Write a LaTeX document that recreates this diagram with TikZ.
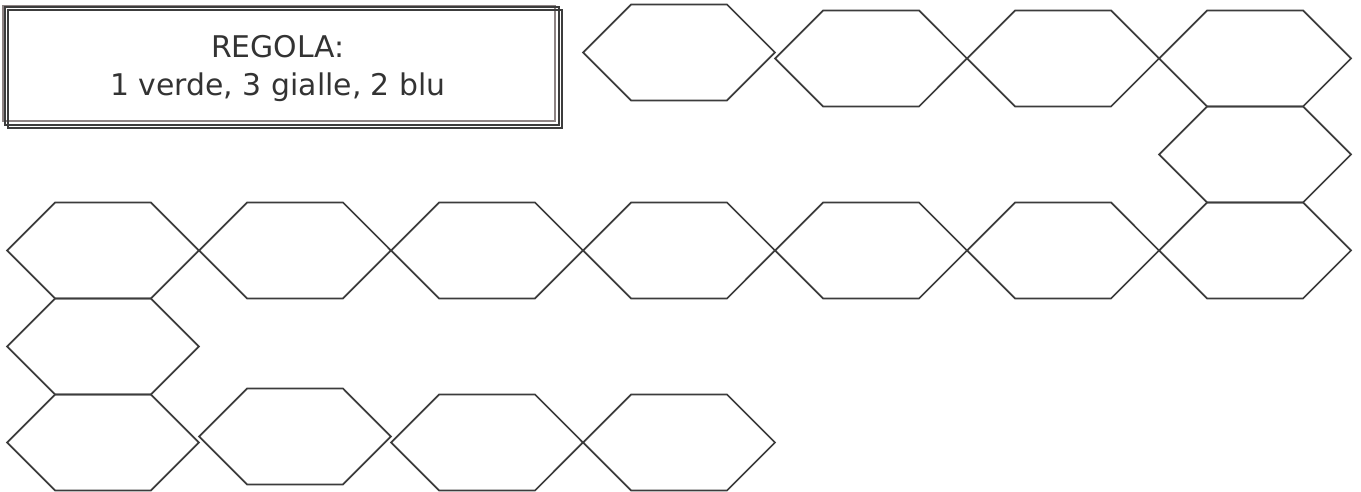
\documentclass[tikz,border=0pt]{standalone}
\usepackage{fontspec}
\usepackage{xcolor}
\usepackage{tikz}
\usetikzlibrary{positioning, shapes.geometric}
\newfontfamily\rulefont{DejaVu Sans}
\definecolor{hexgray}{HTML}{3C3C3C}
\definecolor{framegray}{HTML}{8E8484}
\definecolor{textgray}{HTML}{333333}

\begin{document}
\begin{tikzpicture}[
  x=0.02cm, y=-0.02cm,
  hexcell/.style={draw=hexgray, line width=1pt, regular polygon, regular polygon sides=6,
    minimum size=3.84cm, inner sep=0pt, outer sep=0pt, yscale=0.5774},
  rulebox/.style={draw=framegray, line width=1.4pt, minimum width=11.03cm, minimum height=2.3cm, inner sep=0pt},
  frameline/.style={draw=hexgray, line width=1pt},
  ruletext/.style={align=center, text=textgray, font=\rulefont\fontsize{17}{21.5}\selectfont}
]
\useasboundingbox (0,0) rectangle (1361,492);

% Rule box
\node[rulebox] (rule) at (279.25,63.5) {};
\draw[frameline] ([shift={(2.5,2.5)}]rule.north west) rectangle ([shift={(2.5,2.5)}]rule.south east);
\draw[frameline] ([shift={(5.5,5.5)}]rule.north west) rectangle ([shift={(5.5,5.5)}]rule.south east);
\node[ruletext] (ruletitle) at (278,68.5) {REGOLA:\\1 verde, 3 gialle, 2 blu};

% Top row
\node[hexcell] (a1) at (679,52.5) {};
\node[hexcell] (a2) at (871,58.5) {};
\node[hexcell] (a3) at (1063,58.5) {};
\node[hexcell] (a4) at (1255,58.5) {};
\node[hexcell] (b1) at (1255,154.5) {};

% Middle row
\node[hexcell] (c7) at (1255,250.5) {};
\node[hexcell] (c6) at (1063,250.5) {};
\node[hexcell] (c5) at (871,250.5) {};
\node[hexcell] (c4) at (679,250.5) {};
\node[hexcell] (c3) at (487,250.5) {};
\node[hexcell] (c2) at (295,250.5) {};
\node[hexcell] (c1) at (103,250.5) {};
\node[hexcell] (d1) at (103,346.5) {};

% Bottom row
\node[hexcell] (e1) at (103,442.5) {};
\node[hexcell] (e2) at (295,436.5) {};
\node[hexcell] (e3) at (487,442.5) {};
\node[hexcell] (e4) at (679,442.5) {};

\end{tikzpicture}
\end{document}
